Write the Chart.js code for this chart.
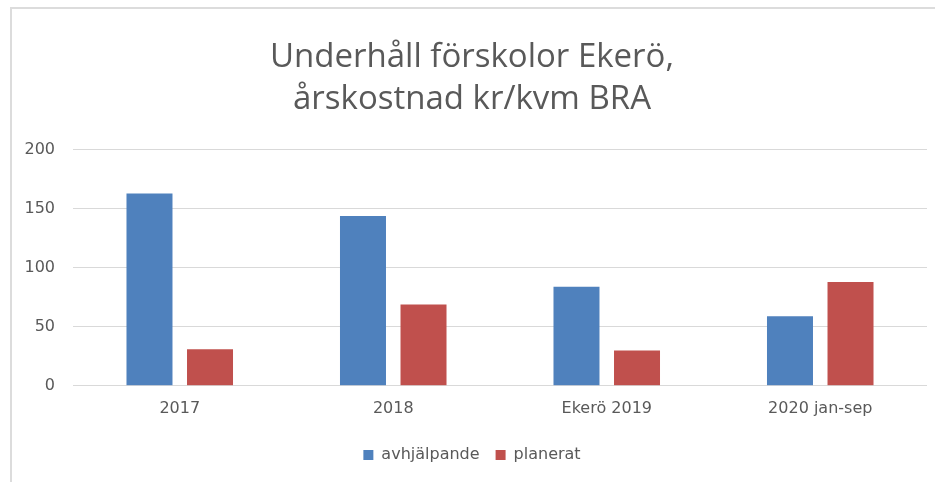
<!DOCTYPE html>
<html>
<head>
<meta charset="utf-8">
<script src="https://cdn.jsdelivr.net/npm/chart.js@4"></script>
<style>
    html, body { margin: 0; padding: 0; background: #fff; overflow: hidden; }
    #wrap { position: relative; width: 935px; height: 482px; overflow: hidden; }
    #frame {
        position: absolute; left: 10px; top: 7px; width: 960px; height: 500px;
        border-top: 2px solid #dcdcdc; border-left: 2px solid #dcdcdc;
        pointer-events: none;
    }
</style>
</head>
<body>
<div id="wrap">
    <canvas id="chart" width="935" height="482"></canvas>
    <div id="frame"></div>
</div>
<script>
const categories = ['2017', '2018', 'Ekerö 2019', '2020 jan-sep'];
const avhjalpande = [163, 144, 84, 59];
const planerat = [31, 69, 30, 88];
const yTicks = [0, 50, 100, 150, 200];
const titleLines = ['Underhåll förskolor Ekerö,', 'årskostnad kr/kvm BRA'];

const grey = '#595959';
const smallFont = { family: 'DejaVu Sans', size: 16 };

new Chart(document.getElementById('chart'), {
    type: 'bar',
    data: {
        labels: categories,
        datasets: [
            {
                label: 'avhjälpande',
                data: avhjalpande,
                backgroundColor: '#4f81bd',
                categoryPercentage: 0.567,
                barPercentage: 0.76,
            },
            {
                label: 'planerat',
                data: planerat,
                backgroundColor: '#c0504d',
                categoryPercentage: 0.567,
                barPercentage: 0.76,
            }
        ]
    },
    options: {
        responsive: false,
        animation: false,
        layout: { padding: { left: 17, right: 8, top: 0, bottom: 9 } },
        plugins: {
            title: {
                display: true,
                text: titleLines,
                color: grey,
                font: { family: 'Open Sans', size: 33, weight: 'normal', lineHeight: 1.27 },
                padding: { top: 37, bottom: 29 },
            },
            legend: {
                position: 'bottom',
                labels: {
                    color: grey,
                    font: smallFont,
                    boxWidth: 10,
                    boxHeight: 10,
                    padding: 16,
                },
            },
            tooltip: { enabled: false },
        },
        scales: {
            x: {
                grid: { display: false, drawTicks: false },
                border: { display: false },
                ticks: {
                    color: grey,
                    font: smallFont,
                    padding: 13,
                },
            },
            y: {
                min: 0,
                max: 200,
                afterFit(scale) { scale.width = 56; },
                afterBuildTicks(scale) { scale.ticks = yTicks.map(v => ({ value: v })); },
                grid: { color: '#d9d9d9', drawTicks: false },
                border: { display: false },
                ticks: {
                    color: grey,
                    font: smallFont,
                    padding: 18,
                },
            },
        },
    },
});
</script>
</body>
</html>
